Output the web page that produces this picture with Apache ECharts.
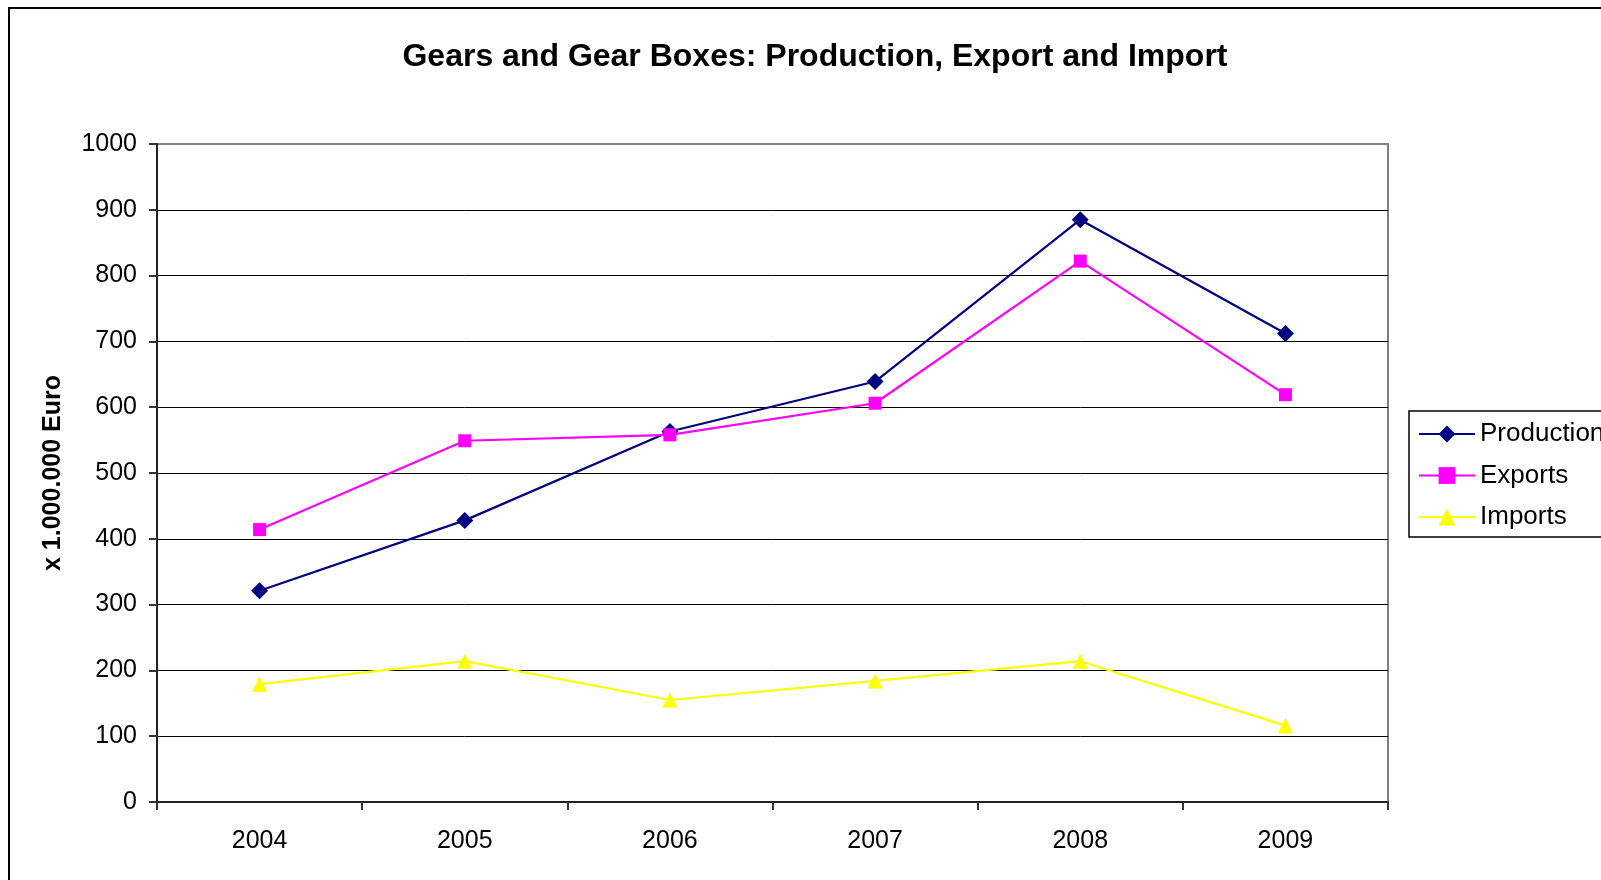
<!DOCTYPE html>
<html>
<head>
<meta charset="utf-8">
<script src="https://cdn.jsdelivr.net/npm/echarts@6/dist/echarts.min.js"></script>
<style>
html,body{margin:0;padding:0;background:#fff;}
#chart{width:1601px;height:880px;}
</style>
</head>
<body>
<div id="chart"></div>
<script>
const years = ['2004', '2005', '2006', '2007', '2008', '2009'];
const production = [321, 428, 563, 639, 885, 712];
const exportsData = [414, 549, 558, 606, 822, 619];
const imports = [179, 214, 155, 184, 214, 116];
const titleText = 'Gears and Gear Boxes: Production, Export and Import';
const yAxisTitle = 'x 1.000.000 Euro';

const FONT = "'Liberation Sans', Arial, sans-serif";
const chart = echarts.init(document.getElementById('chart'));

const splitColors = [];
for (let i = 0; i < 10; i++) splitColors.push('#000');
splitColors.push('#808080');

chart.setOption({
  animation: false,
  backgroundColor: '#fff',
  textStyle: { fontFamily: FONT },
  graphic: [{
    type: 'rect', z: -10, silent: true,
    shape: { x: 9, y: 8, width: 1700, height: 1000 },
    style: { fill: 'none', stroke: '#000', lineWidth: 2 }
  }],
  title: {
    text: titleText,
    left: 815, top: 41, textAlign: 'center', padding: 0,
    textStyle: { fontFamily: FONT, fontSize: 32, fontWeight: 'bold', color: '#000' }
  },
  legend: {
    orient: 'vertical',
    left: 1409, top: 411,
    padding: [9, 40, 6, 9],
    itemWidth: 56, itemHeight: 21, itemGap: 13.5,
    borderColor: '#000', borderWidth: 1.5,
    textStyle: { fontFamily: FONT, fontSize: 26, color: '#000', lineHeight: 28 },
    data: ['Production', 'Exports', 'Imports']
  },
  grid: {
    left: 157, right: 213, top: 144, bottom: 78,
    show: true, borderColor: '#808080', borderWidth: 2, backgroundColor: 'transparent'
  },
  xAxis: {
    type: 'category',
    data: years,
    boundaryGap: true,
    axisLine: { lineStyle: { color: '#222', width: 2 } },
    axisTick: { show: true, length: 8, lineStyle: { color: '#333', width: 2 } },
    axisLabel: { fontFamily: FONT, fontSize: 25, color: '#000', margin: 27 }
  },
  yAxis: {
    type: 'value',
    min: 0, max: 1000, interval: 100,
    name: yAxisTitle,
    nameLocation: 'middle',
    nameRotate: 90,
    nameGap: 91,
    nameTextStyle: { fontFamily: FONT, fontSize: 25, fontWeight: 'bold', color: '#000' },
    axisLine: { show: true, lineStyle: { color: '#222', width: 2 } },
    axisTick: { show: true, length: 8, lineStyle: { color: '#333', width: 2 } },
    axisLabel: { fontFamily: FONT, fontSize: 25, color: '#000', margin: 20, formatter: function (v) { return String(v); } },
    splitLine: { show: true, lineStyle: { color: splitColors, width: 1 } }
  },
  series: [
    {
      name: 'Production', type: 'line', data: production,
      symbol: 'diamond', symbolSize: 17,
      lineStyle: { color: '#000080', width: 2.2 },
      itemStyle: { color: '#000080' }
    },
    {
      name: 'Exports', type: 'line', data: exportsData,
      symbol: 'rect', symbolSize: 13,
      lineStyle: { color: '#FF00FF', width: 2.2 },
      itemStyle: { color: '#FF00FF' }
    },
    {
      name: 'Imports', type: 'line', data: imports,
      symbol: 'triangle', symbolSize: 15,
      lineStyle: { color: '#FFFF00', width: 2.2 },
      itemStyle: { color: '#FFFF00' }
    }
  ]
});
</script>
</body>
</html>
